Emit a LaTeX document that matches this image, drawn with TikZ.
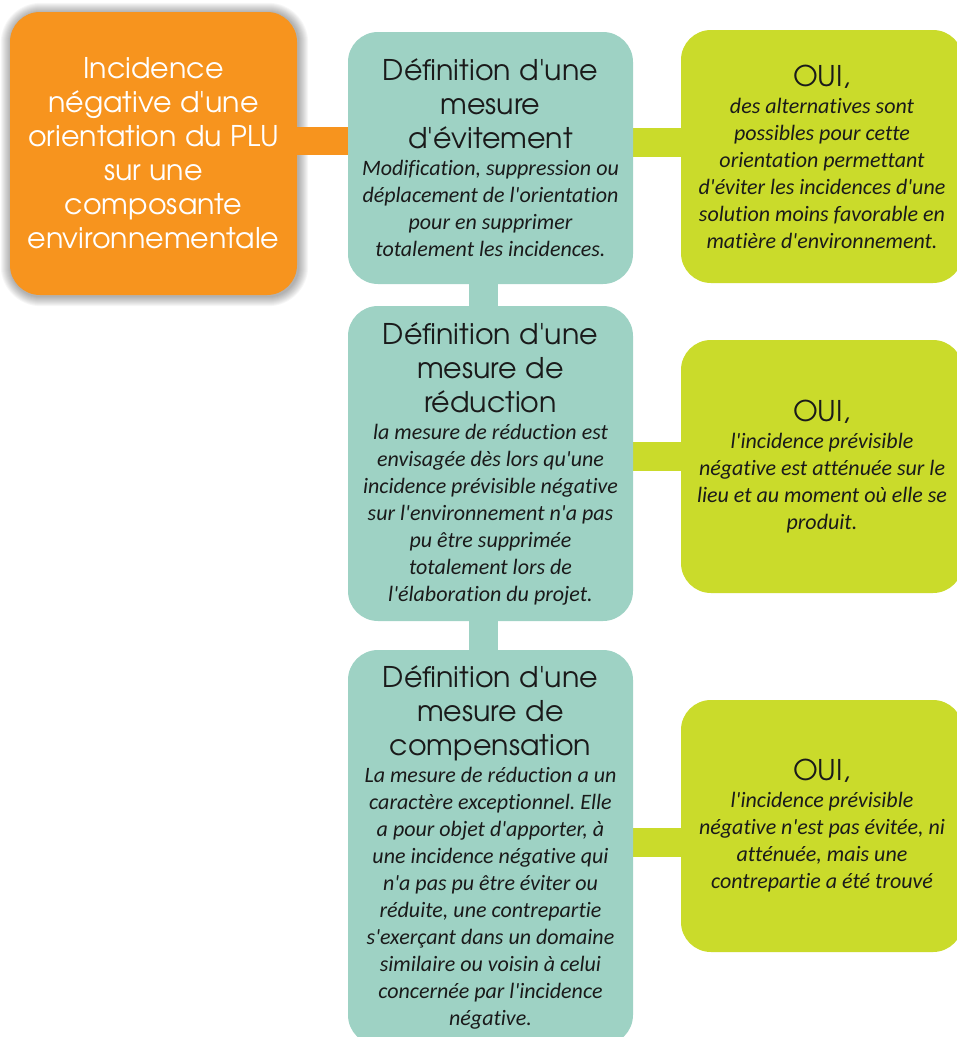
\documentclass[tikz,border=0pt]{standalone}
\usepackage{fontspec}
\setmainfont{Carlito}
\newfontfamily\bodyfont[Ligatures={TeXOff,CommonOff}]{Carlito}
\newfontfamily\headfont{texgyreadventor-regular.otf}
\usetikzlibrary{backgrounds}
\definecolor{orangeC}{RGB}{247,148,30}
\definecolor{tealC}{RGB}{158,210,196}
\definecolor{greenC}{RGB}{202,219,43}
\definecolor{inkC}{RGB}{26,26,26}
\tikzset{
  box/.style={rectangle, rounded corners=30pt, inner sep=0pt, align=flush center, text=inkC},
  obox/.style={box, fill=orangeC, text=white, minimum width=287pt, minimum height=283pt, text width=284pt},
  tbox/.style={box, fill=tealC, minimum width=285pt, minimum height=#1, text width=282pt},
  gbox/.style={box, fill=greenC, minimum width=282pt, minimum height=#1, text width=280pt},
  obar/.style={draw=orangeC, line width=28pt},
  tbar/.style={draw=tealC, line width=29pt},
  gbar/.style={draw=greenC, line width=29pt},
}
\newcommand{\hd}{\headfont\fontsize{28.5}{34}\selectfont\spaceskip=0.3em\relax}
\newcommand{\bd}{\bodyfont\itshape\fontsize{22}{27}\selectfont\spaceskip=0pt\relax\frenchspacing}
\begin{document}
\begin{tikzpicture}[x=1pt,y=-1pt]
\useasboundingbox (0,0) rectangle (957,1037);
\node[obox] (orange) at (153.5,153.5) {\hd Incidence\\négative d'une\\orientation du PLU\\sur une\\composante\\environnementale\par};
\node[tbox=252pt] (t1) at (490.5,158) {{\hd Définition d'une\\mesure\\d'évitement\par}{\bd Modification, suppression ou\\déplacement de l'orientation\\pour en supprimer\\totalement les incidences.\par}};
\node[tbox=315pt] (t2) at (490.5,463.5) {{\hd Définition d'une\\mesure de\\réduction\par}{\bd la mesure de réduction est\\envisagée dès lors qu'une\\incidence prévisible négative\\sur l'environnement n'a pas\\pu être supprimée\\totalement lors de\\l'élaboration du projet.\par}};
\node[tbox=395pt] (t3) at (490.5,847.5) {{\hd Définition d'une\\mesure de\\compensation\par}{\bd La mesure de réduction a un\\caractère exceptionnel. Elle\\a pour objet d'apporter, à\\une incidence négative qui\\n'a pas pu être éviter ou\\réduite, une contrepartie\\s'exerçant dans un domaine\\similaire ou voisin à celui\\concernée par l'incidence\\négative.\par}};
\node[gbox=253pt] (g1) at (822,156.5) {{\hd OUI,\par}{\bd des alternatives sont\\possibles pour cette\\orientation permettant\\d'éviter les incidences d'une\\solution moins favorable en\\matière d'environnement.\par}};
\node[gbox=253pt] (g2) at (822,466.5) {{\hd OUI,\par}{\bd l'incidence prévisible\\négative est atténuée sur le\\lieu et au moment où elle se\\produit.\par}};
\node[gbox=252pt] (g3) at (822,826) {{\hd OUI,\par}{\bd l'incidence prévisible\\négative n'est pas évitée, ni\\atténuée, mais une\\contrepartie a été trouvé\par}};
\begin{scope}[on background layer]
  \foreach \i in {1,...,10} {
    \fill[black, opacity=0.035, rounded corners=30pt+\i pt]
      ([xshift=-\i pt+1pt, yshift=\i pt-1pt]orange.north west) rectangle ([xshift=\i pt+1pt, yshift=-\i pt-1pt]orange.south east);
  }
  \draw[obar] ([yshift=12.5pt]orange.east) -- ([yshift=12.5pt]orange.east -| t1.west);
  \draw[gbar] ([yshift=16pt]t1.east) -- ([yshift=16pt]t1.east -| g1.west);
  \draw[gbar] ([yshift=7.5pt]t2.east) -- ([yshift=7.5pt]t2.east -| g2.west);
  \draw[gbar] ([yshift=5pt]t3.east) -- ([yshift=5pt]t3.east -| g3.west);
  \draw[tbar] ([xshift=-7pt]t1.south) -- ([xshift=-7pt]t2.north);
  \draw[tbar] ([xshift=-7pt]t2.south) -- ([xshift=-7pt]t3.north);
\end{scope}
\end{tikzpicture}
\end{document}
